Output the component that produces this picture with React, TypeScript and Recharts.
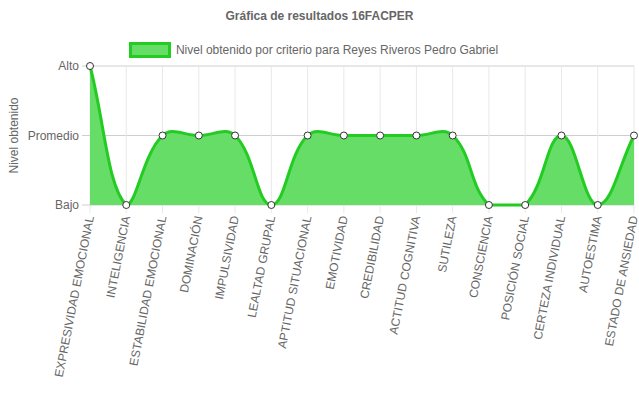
import { AreaChart, Area, XAxis, YAxis, CartesianGrid } from "recharts";

const categories = [
  "EXPRESIVIDAD EMOCIONAL",
  "INTELIGENCIA",
  "ESTABILIDAD EMOCIONAL",
  "DOMINACIÓN",
  "IMPULSIVIDAD",
  "LEALTAD GRUPAL",
  "APTITUD SITUACIONAL",
  "EMOTIVIDAD",
  "CREDIBILIDAD",
  "ACTITUD COGNITIVA",
  "SUTILEZA",
  "CONSCIENCIA",
  "POSICIÓN SOCIAL",
  "CERTEZA INDIVIDUAL",
  "AUTOESTIMA",
  "ESTADO DE ANSIEDAD",
];

// 1 = Bajo, 2 = Promedio, 3 = Alto
const levels = [3, 1, 2, 2, 2, 1, 2, 2, 2, 2, 2, 1, 1, 2, 1, 2];

const levelTicks = [1, 2, 3];
const levelLabels = ["Bajo", "Promedio", "Alto"];

const data = categories.map((name, i) => ({ name, nivel: levels[i] }));

const FONT = '"Liberation Sans", Arial, Helvetica, sans-serif';
const TEXT = "#666";
const LINE = "#22cc22";
const FILL = "#66dd66";

// spline like chart.js (tension 0.4, control points capped to the area)
function splineCurve(context: any) {
  let pts: number[][] = [];
  let line = NaN;
  const T = 0.4;
  return {
    areaStart() {
      line = 0;
    },
    areaEnd() {
      line = NaN;
    },
    lineStart() {
      pts = [];
    },
    lineEnd() {
      const n = pts.length;
      if (n) {
        const xs = pts.map((p) => p[0]);
        const ys = pts.map((p) => p[1]);
        const x0 = Math.min(...xs), x1 = Math.max(...xs);
        const y0 = Math.min(...ys), y1 = Math.max(...ys);
        const cx = (v: number) => Math.max(x0, Math.min(x1, v));
        const cy = (v: number) => Math.max(y0, Math.min(y1, v));
        const cps = pts.map((p, i) => {
          const prev = pts[i - 1] || p;
          const next = pts[i + 1] || p;
          const d01 = Math.hypot(p[0] - prev[0], p[1] - prev[1]);
          const d12 = Math.hypot(next[0] - p[0], next[1] - p[1]);
          let s01 = d01 / (d01 + d12);
          let s12 = d12 / (d01 + d12);
          if (isNaN(s01)) s01 = 0;
          if (isNaN(s12)) s12 = 0;
          const fa = T * s01;
          const fb = T * s12;
          return {
            px: cx(p[0] - fa * (next[0] - prev[0])),
            py: cy(p[1] - fa * (next[1] - prev[1])),
            nx: cx(p[0] + fb * (next[0] - prev[0])),
            ny: cy(p[1] + fb * (next[1] - prev[1])),
          };
        });
        if (line) context.lineTo(pts[0][0], pts[0][1]);
        else context.moveTo(pts[0][0], pts[0][1]);
        for (let i = 1; i < n; i++) {
          context.bezierCurveTo(
            cps[i - 1].nx,
            cps[i - 1].ny,
            cps[i].px,
            cps[i].py,
            pts[i][0],
            pts[i][1]
          );
        }
      }
      if (line || (line !== 0 && n === 1)) context.closePath();
      line = 1 - line;
    },
    point(x: number, y: number) {
      pts.push([+x, +y]);
    },
  };
}

const XTick = ({ x, y, payload }: any) => (
  <text
    x={x}
    y={y + 1}
    transform={`rotate(-79 ${x} ${y + 1})`}
    textAnchor="end"
    dominantBaseline="central"
    fill={TEXT}
    fontSize={12}
    fontFamily={FONT}
  >
    {payload.value}
  </text>
);

const YLabel = ({ viewBox }: any) => {
  const x = 14;
  const y = viewBox.y + viewBox.height / 2;
  return (
    <text
      x={x}
      y={y}
      transform={`rotate(-90 ${x} ${y})`}
      textAnchor="middle"
      dominantBaseline="central"
      fill={TEXT}
      fontSize={12}
      fontFamily={FONT}
    >
      Nivel obtenido
    </text>
  );
};

export default function App() {
  return (
    <div
      style={{
        position: "absolute",
        left: 0,
        top: 0,
        width: 639,
        height: 411,
        background: "#fff",
        fontFamily: FONT,
      }}
    >
      <div
        style={{
          position: "absolute",
          top: 9,
          width: 639,
          textAlign: "center",
          fontSize: 12,
          fontWeight: "bold",
          color: TEXT,
        }}
      >
        Gráfica de resultados 16FACPER
      </div>
      <div
        style={{
          position: "absolute",
          top: 42,
          left: -6,
          width: 639,
          display: "flex",
          justifyContent: "center",
          alignItems: "center",
          fontSize: 12,
          color: TEXT,
        }}
      >
        <span
          style={{
            display: "inline-block",
            width: 36,
            height: 10,
            background: FILL,
            border: `3px solid ${LINE}`,
            marginRight: 5,
          }}
        />
        Nivel obtenido por criterio para Reyes Riveros Pedro Gabriel
      </div>
      <AreaChart
        width={639}
        height={411}
        data={data}
        margin={{ top: 66, right: 5, bottom: 0, left: 0 }}
      >
        <CartesianGrid vertical={false} stroke="#cfcfcf" />
        <CartesianGrid horizontal={false} stroke="#e8e8e8" />
        <XAxis
          dataKey="name"
          interval={0}
          height={206}
          tickSize={8}
          tickMargin={2}
          axisLine={false}
          tickLine={{ stroke: "#e8e8e8" }}
          tick={<XTick />}
        />
        <YAxis
          type="number"
          domain={[1, 3]}
          ticks={levelTicks}
          interval={0}
          width={90}
          tickSize={8}
          tickMargin={3}
          axisLine={false}
          tickLine={{ stroke: "#cfcfcf" }}
          tickFormatter={(v: number) => levelLabels[levelTicks.indexOf(v)]}
          tick={{ fill: TEXT, fontSize: 12, fontFamily: FONT }}
          label={<YLabel />}
        />
        <Area
          dataKey="nivel"
          type={splineCurve as any}
          stroke={LINE}
          strokeWidth={3}
          fill={FILL}
          fillOpacity={1}
          dot={{ r: 3.5, fill: "#fff", stroke: "#333", strokeWidth: 1, fillOpacity: 1 }}
          activeDot={false}
          isAnimationActive={false}
        />
      </AreaChart>
    </div>
  );
}
